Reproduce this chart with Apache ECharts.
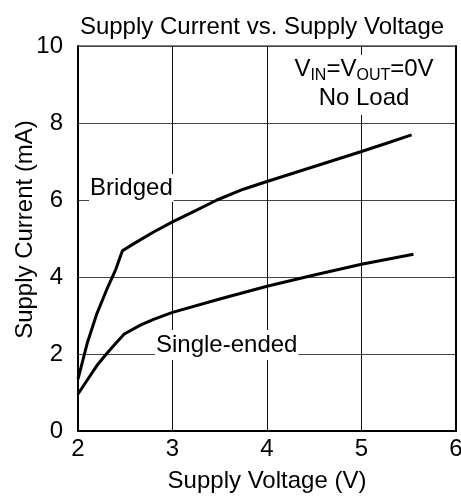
<!DOCTYPE html>
<html lang="en">
<head>
    <meta charset="UTF-8">
    <title>Supply Current vs. Supply Voltage</title>
    <script src="https://cdn.jsdelivr.net/npm/echarts@6/dist/echarts.min.js"></script>
    <style>
        html, body { margin: 0; padding: 0; background: #fff; }
        #chart { width: 461px; height: 498px; }
    </style>
</head>
<body>
<div id="chart"></div>
<script type="text/javascript">
    // x = supply voltage (V), y = supply current (mA)
    var bridgedV = [2.0, 2.1, 2.2, 2.3, 2.4, 2.47, 2.6, 2.8, 3.0, 3.25, 3.47, 3.75, 4.0, 4.5, 5.0, 5.25, 5.53];
    var bridgedI = [1.35, 2.3, 3.05, 3.65, 4.2, 4.68, 4.88, 5.17, 5.43, 5.73, 6.0, 6.28, 6.48, 6.87, 7.26, 7.46, 7.69];
    var singleV = [2.0, 2.1, 2.2, 2.3, 2.4, 2.49, 2.66, 2.8, 3.0, 3.5, 4.0, 4.5, 5.0, 5.55];
    var singleI = [0.96, 1.33, 1.7, 2.0, 2.28, 2.52, 2.75, 2.9, 3.08, 3.43, 3.76, 4.05, 4.33, 4.59];
    var xTicks = [2, 3, 4, 5, 6];
    var yTicks = [0, 2, 4, 6, 8, 10];

    var font = "'Liberation Sans', Arial, sans-serif";

    function pairs(xs, ys) {
        var out = [];
        for (var i = 0; i < xs.length; i++) out.push([xs[i], ys[i]]);
        return out;
    }

    var chart = echarts.init(document.getElementById('chart'));

    var option = {
        animation: false,
        backgroundColor: '#fff',
        title: {
            text: 'Supply Current vs. Supply Voltage',
            left: 257,
            textAlign: 'center',
            top: 10,
            textStyle: {fontFamily: font, fontSize: 24, fontWeight: 'normal', color: '#000'}
        },
        grid: {
            left: 78, right: 5, top: 46, bottom: 67,
            outerBoundsMode: 'none', containLabel: false,
            show: true, borderColor: '#000', borderWidth: 1
        },
        xAxis: [{
            type: 'value',
            min: xTicks[0], max: xTicks[xTicks.length - 1], interval: 1,
            name: 'Supply Voltage (V)',
            nameLocation: 'middle', nameGap: 38, nameMoveOverlap: false,
            nameTextStyle: {fontFamily: font, fontSize: 24, color: '#000'},
            axisLine: {lineStyle: {color: '#000', width: 2}},
            axisTick: {show: false},
            axisLabel: {fontFamily: font, fontSize: 24, color: '#000', margin: 6},
            splitLine: {lineStyle: {color: '#111', width: 1}}
        }],
        yAxis: [{
            type: 'value',
            min: yTicks[0], max: yTicks[yTicks.length - 1], interval: 2,
            name: 'Supply Current (mA)',
            nameLocation: 'middle', nameGap: 41, nameMoveOverlap: false,
            nameTextStyle: {fontFamily: font, fontSize: 24, color: '#000', padding: [0, 0, 0, 18]},
            axisLine: {show: true, lineStyle: {color: '#000', width: 2}},
            axisTick: {show: false},
            axisLabel: {fontFamily: font, fontSize: 24, color: '#000', margin: 15},
            splitLine: {lineStyle: {color: '#444', width: 1}}
        }, {
            type: 'value', position: 'right',
            min: yTicks[0], max: yTicks[yTicks.length - 1], interval: 2,
            axisLine: {show: true, lineStyle: {color: '#000', width: 2}},
            axisTick: {show: false},
            axisLabel: {show: false},
            splitLine: {show: false}
        }],
        series: [
            {
                name: 'Bridged',
                type: 'line',
                data: pairs(bridgedV, bridgedI),
                showSymbol: false,
                lineStyle: {color: '#000', width: 3},
                z: 5
            },
            {
                name: 'Single-ended',
                type: 'line',
                data: pairs(singleV, singleI),
                showSymbol: false,
                lineStyle: {color: '#000', width: 3},
                z: 5
            }
        ],
        graphic: [
            {
                type: 'text', x: 89, y: 188, z: 10,
                style: {
                    text: 'Bridged', font: '24px ' + font, fill: '#000',
                    verticalAlign: 'middle',
                    backgroundColor: '#fff', padding: [1, 1, 3, 1]
                }
            },
            {
                type: 'text', x: 155, y: 345, z: 10,
                style: {
                    text: 'Single-ended', font: '24px ' + font, fill: '#000',
                    verticalAlign: 'middle',
                    backgroundColor: '#fff', padding: [1, 1, 5, 1]
                }
            },
            {
                type: 'text', x: 364, y: 85, z: 10,
                style: {
                    text: '{n|V}{s|IN}{n|=V}{s|OUT}{n|=0V}\n{n|No Load}',
                    align: 'center', verticalAlign: 'middle',
                    backgroundColor: '#fff', padding: [0, 2, 2, 2],
                    rich: {
                        n: {fontFamily: font, fontSize: 24, color: '#000', lineHeight: 29},
                        s: {fontFamily: font, fontSize: 16, color: '#000', lineHeight: 19, verticalAlign: 'bottom'}
                    }
                }
            }
        ]
    };

    chart.setOption(option);
</script>
</body>
</html>
